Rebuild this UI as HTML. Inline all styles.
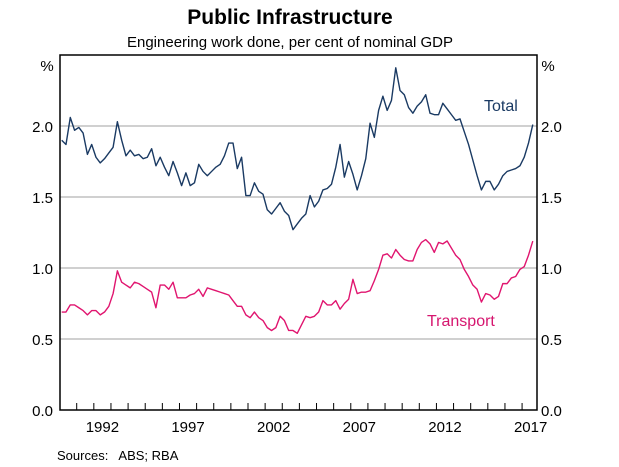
<!DOCTYPE html>
<html><head><meta charset="utf-8"><style>
html,body{margin:0;padding:0;background:#fff;}
svg{display:block;font-family:"Liberation Sans",Arial,sans-serif;}
</style></head><body>
<svg id="chart" width="619" height="467">
<text x="290" y="24" text-anchor="middle" font-size="21" font-weight="bold">Public Infrastructure</text>
<text x="290" y="47" text-anchor="middle" font-size="15">Engineering work done, per cent of nominal GDP</text>
<g id="grid"></g>
<g id="yl"></g>
<g id="yr"></g>
<g id="xa"></g>
<g id="series"></g>
<rect x="60" y="55" width="477" height="355" fill="none" stroke="#000" stroke-width="1.5"/>
<text x="47" y="71" text-anchor="middle" font-size="15">%</text>
<text x="548" y="71" text-anchor="middle" font-size="15">%</text>
<text x="484" y="111" font-size="16" fill="#1a3a63">Total</text>
<text x="427" y="326" font-size="16" fill="#d6166f">Transport</text>
<text x="57" y="460" font-size="13">Sources:&#160;&#160; ABS; RBA</text>
</svg>
<script>
const yTicks=[0,0.5,1.0,1.5,2.0,2.5];
const yTickLabels=["0.0","0.5","1.0","1.5","2.0",""];
const xYears=[1992,1997,2002,2007,2012,2017];
const startYear=1990;
const totalValues=[1.90,1.87,2.06,1.97,1.99,1.95,1.80,1.87,1.78,1.74,1.77,1.81,1.85,2.03,1.90,1.79,1.83,1.79,1.80,1.77,1.78,1.84,1.72,1.78,1.71,1.65,1.75,1.67,1.58,1.67,1.58,1.60,1.73,1.68,1.65,1.68,1.71,1.73,1.79,1.88,1.88,1.70,1.78,1.51,1.51,1.60,1.54,1.52,1.41,1.38,1.42,1.46,1.40,1.37,
1.27,1.31,1.35,1.38,1.51,1.43,1.47,1.55,1.56,1.59,1.71,1.87,1.64,1.75,1.66,1.55,1.65,1.77,2.02,1.92,2.11,2.21,2.11,2.18,2.41,2.25,2.22,2.13,2.09,2.14,2.17,2.22,2.09,2.08,2.08,2.16,2.12,2.08,2.04,2.05,1.96,1.87,1.76,1.65,1.55,1.61,1.61,1.55,1.59,1.65,1.68,1.69,1.70,1.72,1.78,1.88,2.01];
const transportValues=[0.69,0.69,0.74,0.74,0.72,0.70,0.67,0.70,0.70,0.67,0.69,0.73,0.82,0.98,0.90,0.88,0.86,0.90,0.89,0.87,0.85,0.83,0.72,0.88,0.88,0.85,0.90,0.79,0.79,0.79,0.81,0.82,0.85,0.80,0.86,0.85,0.84,0.83,0.82,0.81,0.77,0.73,0.73,0.67,0.65,0.69,0.65,0.63,0.58,0.56,0.58,0.66,0.63,0.56,
0.56,0.54,0.60,0.66,0.65,0.66,0.69,0.77,0.74,0.74,0.77,0.71,0.75,0.78,0.92,0.82,0.83,0.83,0.84,0.91,0.99,1.09,1.10,1.07,1.13,1.09,1.06,1.05,1.05,1.13,1.18,1.20,1.17,1.11,1.18,1.17,1.19,1.14,1.09,1.06,0.99,0.94,0.88,0.85,0.76,0.82,0.81,0.78,0.80,0.89,0.89,0.93,0.94,0.99,1.01,1.09,1.19];

const NS="http://www.w3.org/2000/svg";
function xScale(t){return 76.7+(t-1991)*17.13;}
function yScale(v){return 410-v*142;}
function mk(tag,attrs,parent){const e=document.createElementNS(NS,tag);for(const k in attrs)e.setAttribute(k,attrs[k]);parent.appendChild(e);return e;}
const grid=document.getElementById('grid'),yl=document.getElementById('yl'),yr=document.getElementById('yr'),xa=document.getElementById('xa'),series=document.getElementById('series');
yTicks.forEach((v,i)=>{
  if(v>0&&v<2.5){const g=mk('line',{x1:60,x2:537,y1:yScale(v),y2:yScale(v),stroke:'#b3b3b3','stroke-width':1.3},grid);
  
  }
  if(yTickLabels[i]){
    const a=mk('text',{x:53,y:yScale(v)+6,'text-anchor':'end','font-size':15},yl);a.textContent=yTickLabels[i];
    
    
    const b=mk('text',{x:541,y:yScale(v)+6,'font-size':15},yr);b.textContent=yTickLabels[i];
    
    
  }
});
for(let y=1991;y<=2017;y++){
  const t=mk('line',{x1:xScale(y),x2:xScale(y),y1:410,y2:403,stroke:'#000','stroke-width':1},xa);
  
  
}
xYears.forEach(y=>{
  const l=mk('text',{x:xScale(y+0.5),y:432,'text-anchor':'middle','font-size':15},xa);l.textContent=y;
  
  
});
function line(vals,color,name){
  const d=vals.map((v,i)=>(i?'L':'M')+xScale(startYear+0.125+i*0.25).toFixed(2)+','+yScale(v).toFixed(2)).join('');
  const p=mk('path',{d:d,fill:'none',stroke:color,'stroke-width':1.4,'stroke-linejoin':'round'},series);
  
  
}
line(totalValues,'#1a3a63','total-line');
line(transportValues,'#e0156f','transport-line');
</script>
</body></html>
